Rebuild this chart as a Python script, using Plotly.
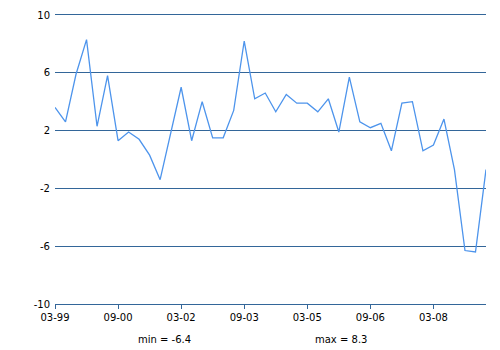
import plotly.graph_objects as go

quarters = [
    "03-99", "06-99", "09-99", "12-99",
    "03-00", "06-00", "09-00", "12-00",
    "03-01", "06-01", "09-01", "12-01",
    "03-02", "06-02", "09-02", "12-02",
    "03-03", "06-03", "09-03", "12-03",
    "03-04", "06-04", "09-04", "12-04",
    "03-05", "06-05", "09-05", "12-05",
    "03-06", "06-06", "09-06", "12-06",
    "03-07", "06-07", "09-07", "12-07",
    "03-08", "06-08", "09-08", "12-08",
    "03-09", "06-09",
]
values = [
    3.6, 2.6, 5.9, 8.3, 2.3, 5.8, 1.3, 1.9, 1.4, 0.3,
    -1.4, 1.9, 5.0, 1.3, 4.0, 1.5, 1.5, 3.4, 8.2, 4.2,
    4.6, 3.3, 4.5, 3.9, 3.9, 3.3, 4.2, 1.9, 5.7, 2.6,
    2.2, 2.5, 0.6, 3.9, 4.0, 0.6, 1.0, 2.8, -0.7, -6.3,
    -6.4, -0.7,
]
x_ticks = ["03-99", "09-00", "03-02", "09-03", "03-05", "09-06", "03-08"]
y_ticks = [-10, -6, -2, 2, 6, 10]
y_tick_text = ["-10", "-6", "-2", "2", "6", "10"]
summary = ["min = -6.4", "max = 8.3"]

GRID = "#336699"
LINE = "#4d94ec"
FONT = "DejaVu Sans"

L, R, T, B = 55, 14, 15, 46
W, H = 500, 350
pw = W - L - R
ph = H - T - B

fig = go.Figure()
fig.add_trace(go.Scatter(
    x=quarters, y=values, mode="lines",
    line=dict(color=LINE, width=1.3),
    hoverinfo="x+y",
))

fig.update_layout(
    width=W, height=H,
    margin=dict(l=L, r=R, t=T, b=B, autoexpand=False),
    paper_bgcolor="white", plot_bgcolor="white",
    showlegend=False,
    font=dict(family=FONT, size=10, color="black"),
    xaxis=dict(
        type="category",
        range=[0, len(quarters) - 1],
        tickmode="array", tickvals=x_ticks, ticktext=x_ticks,
        showgrid=False, zeroline=False,
        showline=True, mirror=True, linecolor=GRID, linewidth=1,
        ticks="outside", ticklen=4, tickcolor=GRID, tickwidth=1,
        tickfont=dict(family=FONT, size=10, color="black"),
        automargin=False,
    ),
    yaxis=dict(
        range=[-10, 10],
        tickmode="array", tickvals=y_ticks, ticktext=y_tick_text,
        showgrid=True, gridcolor=GRID, gridwidth=1,
        zeroline=False, showline=False, ticks="",
        ticklabelstandoff=4,
        tickfont=dict(family=FONT, size=10, color="black"),
        automargin=False,
    ),
    annotations=[
        dict(text=summary[0], x=(164 - L) / pw, y=(H - B - 339) / ph,
             xref="paper", yref="paper", showarrow=False,
             xanchor="center", yanchor="middle",
             font=dict(family=FONT, size=10, color="black")),
        dict(text=summary[1], x=(341 - L) / pw, y=(H - B - 339) / ph,
             xref="paper", yref="paper", showarrow=False,
             xanchor="center", yanchor="middle",
             font=dict(family=FONT, size=10, color="black")),
    ],
)

fig.write_html(
    "out.html",
    config={"displayModeBar": False},
    post_script="document.body.style.margin='0';document.body.style.overflow='hidden';",
)
